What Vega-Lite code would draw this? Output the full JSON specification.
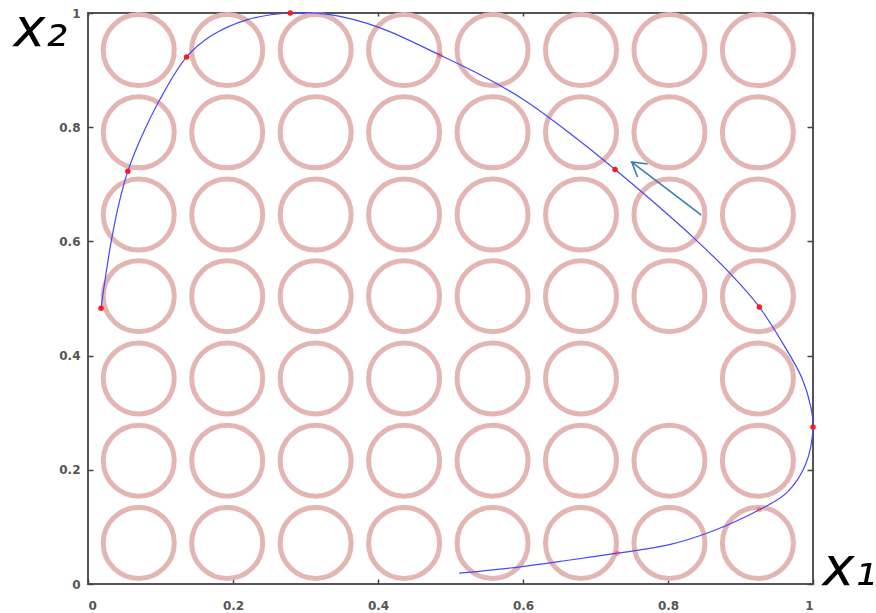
{
  "$schema": "https://vega.github.io/schema/vega-lite/v6.json",
  "width": 725,
  "height": 571,
  "autosize": {"type": "none"},
  "padding": {"left": 88, "top": 13, "right": 63, "bottom": 29},
  "background": "white",
  "config": {
    "view": {"stroke": "#555", "strokeWidth": 2},
    "axis": {
      "domain": false,
      "grid": false,
      "tickColor": "#444",
      "tickSize": -5,
      "tickWidth": 1.5,
      "labelFont": "DejaVu Sans",
      "labelFontWeight": "bold",
      "labelFontSize": 12,
      "labelColor": "#555",
      "titleFont": "DejaVu Sans",
      "titleFontStyle": "italic",
      "titleFontWeight": "normal",
      "titleFontSize": 54,
      "titleColor": "#000"
    }
  },
  "datasets": {
    "circles": [
      {"cx": 0.070, "cy": 0.072}, {"cx": 0.192, "cy": 0.072}, {"cx": 0.314, "cy": 0.072}, {"cx": 0.436, "cy": 0.072}, {"cx": 0.558, "cy": 0.072}, {"cx": 0.680, "cy": 0.072}, {"cx": 0.802, "cy": 0.072}, {"cx": 0.924, "cy": 0.072},
      {"cx": 0.070, "cy": 0.216}, {"cx": 0.192, "cy": 0.216}, {"cx": 0.314, "cy": 0.216}, {"cx": 0.436, "cy": 0.216}, {"cx": 0.558, "cy": 0.216}, {"cx": 0.680, "cy": 0.216}, {"cx": 0.802, "cy": 0.216}, {"cx": 0.924, "cy": 0.216},
      {"cx": 0.070, "cy": 0.360}, {"cx": 0.192, "cy": 0.360}, {"cx": 0.314, "cy": 0.360}, {"cx": 0.436, "cy": 0.360}, {"cx": 0.558, "cy": 0.360}, {"cx": 0.680, "cy": 0.360}, {"cx": 0.924, "cy": 0.360},
      {"cx": 0.070, "cy": 0.504}, {"cx": 0.192, "cy": 0.504}, {"cx": 0.314, "cy": 0.504}, {"cx": 0.436, "cy": 0.504}, {"cx": 0.558, "cy": 0.504}, {"cx": 0.680, "cy": 0.504}, {"cx": 0.802, "cy": 0.504}, {"cx": 0.924, "cy": 0.504},
      {"cx": 0.070, "cy": 0.647}, {"cx": 0.192, "cy": 0.647}, {"cx": 0.314, "cy": 0.647}, {"cx": 0.436, "cy": 0.647}, {"cx": 0.558, "cy": 0.647}, {"cx": 0.680, "cy": 0.647}, {"cx": 0.802, "cy": 0.647}, {"cx": 0.924, "cy": 0.647},
      {"cx": 0.070, "cy": 0.791}, {"cx": 0.192, "cy": 0.791}, {"cx": 0.314, "cy": 0.791}, {"cx": 0.436, "cy": 0.791}, {"cx": 0.558, "cy": 0.791}, {"cx": 0.680, "cy": 0.791}, {"cx": 0.802, "cy": 0.791}, {"cx": 0.924, "cy": 0.791},
      {"cx": 0.070, "cy": 0.935}, {"cx": 0.192, "cy": 0.935}, {"cx": 0.314, "cy": 0.935}, {"cx": 0.436, "cy": 0.935}, {"cx": 0.558, "cy": 0.935}, {"cx": 0.680, "cy": 0.935}, {"cx": 0.802, "cy": 0.935}, {"cx": 0.924, "cy": 0.935}
    ],
    "curve": [
      {"i": 1, "x": 0.512, "y": 0.019}, {"i": 2, "x": 0.596, "y": 0.030}, {"i": 3, "x": 0.665, "y": 0.042},
      {"i": 4, "x": 0.730, "y": 0.054}, {"i": 5, "x": 0.799, "y": 0.068}, {"i": 6, "x": 0.860, "y": 0.092},
      {"i": 7, "x": 0.926, "y": 0.130}, {"i": 8, "x": 0.964, "y": 0.160}, {"i": 9, "x": 0.990, "y": 0.210},
      {"i": 10, "x": 1.0, "y": 0.275}, {"i": 11, "x": 0.997, "y": 0.310}, {"i": 12, "x": 0.985, "y": 0.360},
      {"i": 13, "x": 0.959, "y": 0.420}, {"i": 14, "x": 0.926, "y": 0.485}, {"i": 15, "x": 0.881, "y": 0.550},
      {"i": 16, "x": 0.834, "y": 0.608}, {"i": 17, "x": 0.780, "y": 0.669}, {"i": 18, "x": 0.727, "y": 0.726},
      {"i": 19, "x": 0.665, "y": 0.789}, {"i": 20, "x": 0.600, "y": 0.849}, {"i": 21, "x": 0.541, "y": 0.892},
      {"i": 22, "x": 0.486, "y": 0.926}, {"i": 23, "x": 0.403, "y": 0.974}, {"i": 24, "x": 0.334, "y": 0.997},
      {"i": 25, "x": 0.279, "y": 1.0}, {"i": 26, "x": 0.219, "y": 0.988}, {"i": 27, "x": 0.170, "y": 0.960},
      {"i": 28, "x": 0.136, "y": 0.923}, {"i": 29, "x": 0.099, "y": 0.848}, {"i": 30, "x": 0.072, "y": 0.778},
      {"i": 31, "x": 0.055, "y": 0.723}, {"i": 32, "x": 0.043, "y": 0.668}, {"i": 33, "x": 0.032, "y": 0.600},
      {"i": 34, "x": 0.023, "y": 0.528}, {"i": 35, "x": 0.018, "y": 0.483}
    ],
    "samples": [
      {"x": 0.018, "y": 0.483, "tone": "strong"},
      {"x": 0.055, "y": 0.723, "tone": "strong"},
      {"x": 0.136, "y": 0.923, "tone": "strong"},
      {"x": 0.279, "y": 1.0, "tone": "strong"},
      {"x": 0.486, "y": 0.926, "tone": "faint"},
      {"x": 0.727, "y": 0.726, "tone": "strong"},
      {"x": 0.926, "y": 0.485, "tone": "strong"},
      {"x": 1.0, "y": 0.275, "tone": "strong"},
      {"x": 0.926, "y": 0.130, "tone": "faint"},
      {"x": 0.730, "y": 0.054, "tone": "faint"}
    ],
    "arrow": [
      {"x": 0.846, "y": 0.646, "x2": 0.750, "y2": 0.739}
    ]
  },
  "layer": [
    {
      "data": {"name": "circles"},
      "mark": {"type": "point", "shape": "circle", "filled": false, "size": 5041, "stroke": "#e3b6b3", "strokeWidth": 5, "opacity": 1},
      "encoding": {
        "x": {"field": "cx", "type": "quantitative", "scale": {"domain": [0, 1], "nice": false, "zero": false},
              "axis": {"orient": "bottom", "values": [0, 0.2, 0.4, 0.6, 0.8, 1], "format": "~g", "labelPadding": 21, "title": "x₁", "titleAlign": "left", "titleBaseline": "alphabetic", "titleAnchor": null, "titleX": 734, "titleY": 0, "titleAngle": 0}},
        "y": {"field": "cy", "type": "quantitative", "scale": {"domain": [0, 1], "nice": false, "zero": false},
              "axis": {"orient": "left", "values": [0, 0.2, 0.4, 0.6, 0.8, 1], "format": "~g", "labelPadding": 13, "title": "x₂", "titleAlign": "left", "titleBaseline": "alphabetic", "titleAnchor": null, "titleX": -75, "titleY": 32, "titleAngle": 0}}
      }
    },
    {
      "data": {"name": "curve"},
      "mark": {"type": "line", "interpolate": "catmull-rom", "color": "#4646ff", "strokeWidth": 1.2},
      "encoding": {
        "x": {"field": "x", "type": "quantitative", "axis": null},
        "y": {"field": "y", "type": "quantitative", "axis": null},
        "order": {"field": "i", "type": "quantitative"}
      }
    },
    {
      "data": {"name": "samples"},
      "mark": {"type": "point", "shape": "circle", "filled": true, "size": 30, "color": "#ff1a1a"},
      "encoding": {
        "x": {"field": "x", "type": "quantitative", "axis": null},
        "y": {"field": "y", "type": "quantitative", "axis": null},
        "opacity": {"field": "tone", "type": "nominal", "scale": {"domain": ["strong", "faint"], "range": [1, 0.35]}, "legend": null}
      }
    },
    {
      "data": {"name": "arrow"},
      "mark": {"type": "rule", "color": "#3f7bb0", "strokeWidth": 1.6},
      "encoding": {
        "x": {"field": "x", "type": "quantitative",
              "axis": {"orient": "top", "values": [0, 0.2, 0.4, 0.6, 0.8, 1], "labels": false, "title": null, "tickSize": -3}},
        "y": {"field": "y", "type": "quantitative",
              "axis": {"orient": "right", "values": [0, 0.2, 0.4, 0.6, 0.8, 1], "labels": false, "title": null, "tickSize": -6}},
        "x2": {"field": "x2"},
        "y2": {"field": "y2"}
      }
    },
    {
      "data": {"name": "arrow"},
      "mark": {"type": "point", "shape": "M-1,-0.6L0,0L-1,0.6", "filled": false, "size": 750, "angle": 218, "stroke": "#3f7bb0", "strokeWidth": 1.6, "opacity": 1},
      "encoding": {
        "x": {"field": "x2", "type": "quantitative", "axis": null},
        "y": {"field": "y2", "type": "quantitative", "axis": null}
      }
    }
  ],
  "resolve": {"axis": {"x": "independent", "y": "independent"}}
}
